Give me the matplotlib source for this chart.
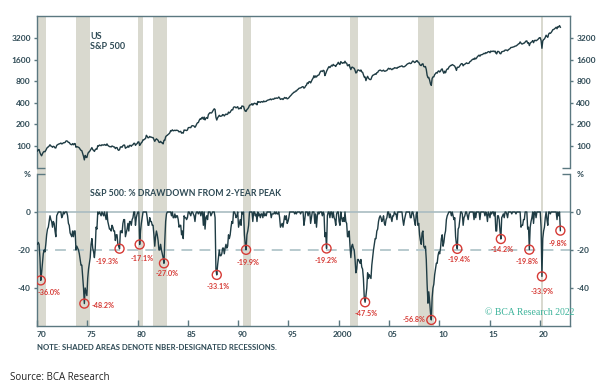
import matplotlib
matplotlib.use("Agg")
import matplotlib.pyplot as plt
import numpy as np

START_YEAR = 1970

# S&P 500, monthly closes (Jan 1970 .. Jan 2022)
spx_close = [
    85, 89, 89, 81, 76, 73, 78, 82, 84, 83, 87, 92,
    96, 97, 100, 104, 100, 99, 96, 99, 98, 94, 94, 102,
    104, 106, 107, 108, 110, 107, 108, 111, 111, 112, 117, 118,
    116, 112, 112, 107, 105, 104, 108, 104, 108, 108, 96, 98,
    97, 96, 94, 90, 87, 86, 79, 72, 64, 74, 70, 69,
    77, 82, 83, 87, 91, 95, 89, 87, 84, 89, 91, 90,
    101, 100, 103, 102, 101, 104, 103, 103, 105, 103, 102, 107,
    102, 100, 98, 98, 97, 100, 99, 97, 97, 92, 95, 95,
    89, 87, 89, 97, 97, 96, 101, 103, 103, 93, 95, 96,
    100, 96, 102, 102, 99, 103, 104, 109, 109, 102, 106, 108,
    114, 114, 102, 106, 111, 114, 122, 122, 125, 127, 141, 136,
    130, 131, 136, 133, 133, 131, 131, 123, 116, 122, 126, 123,
    120, 113, 112, 116, 112, 110, 107, 120, 120, 134, 139, 141,
    145, 148, 153, 164, 162, 168, 163, 164, 166, 164, 166, 165,
    163, 157, 159, 160, 151, 153, 151, 167, 166, 166, 164, 167,
    180, 181, 181, 180, 190, 192, 191, 189, 182, 190, 202, 211,
    212, 227, 238, 235, 247, 251, 236, 253, 231, 244, 249, 242,
    274, 284, 292, 288, 290, 304, 318, 330, 322, 252, 230, 247,
    257, 268, 259, 261, 262, 274, 272, 262, 272, 279, 274, 278,
    297, 289, 295, 310, 321, 318, 346, 351, 349, 340, 346, 353,
    329, 332, 340, 331, 361, 358, 356, 323, 306, 304, 322, 330,
    344, 367, 375, 375, 390, 371, 388, 395, 388, 392, 375, 417,
    409, 413, 404, 415, 415, 408, 424, 414, 418, 419, 431, 436,
    439, 443, 452, 440, 450, 451, 448, 464, 459, 468, 462, 466,
    482, 467, 446, 451, 457, 444, 458, 475, 463, 472, 454, 459,
    470, 487, 501, 515, 533, 545, 562, 562, 584, 582, 605, 616,
    636, 640, 646, 654, 669, 671, 640, 652, 687, 705, 757, 741,
    786, 791, 757, 801, 848, 885, 954, 899, 947, 915, 955, 970,
    980, 1049, 1102, 1112, 1091, 1134, 1121, 957, 1017, 1099, 1164, 1229,
    1280, 1238, 1286, 1335, 1302, 1373, 1329, 1320, 1283, 1363, 1389, 1469,
    1394, 1366, 1499, 1452, 1421, 1455, 1431, 1518, 1437, 1429, 1315, 1320,
    1366, 1240, 1160, 1249, 1256, 1224, 1211, 1134, 1041, 1060, 1139, 1148,
    1130, 1107, 1147, 1076, 1067, 990, 912, 916, 815, 886, 936, 880,
    856, 841, 848, 917, 964, 975, 990, 1008, 996, 1051, 1058, 1112,
    1131, 1145, 1126, 1107, 1121, 1141, 1102, 1104, 1115, 1130, 1174, 1212,
    1181, 1204, 1181, 1157, 1192, 1191, 1234, 1220, 1229, 1207, 1249, 1248,
    1280, 1281, 1295, 1311, 1270, 1270, 1277, 1304, 1336, 1378, 1401, 1418,
    1438, 1407, 1421, 1482, 1531, 1503, 1455, 1474, 1527, 1549, 1481, 1468,
    1379, 1331, 1323, 1386, 1400, 1280, 1267, 1283, 1166, 969, 896, 903,
    826, 735, 700, 873, 919, 919, 987, 1021, 1057, 1036, 1096, 1115,
    1074, 1104, 1169, 1187, 1089, 1031, 1102, 1049, 1141, 1183, 1181, 1258,
    1286, 1327, 1326, 1364, 1345, 1321, 1292, 1219, 1131, 1253, 1247, 1258,
    1312, 1366, 1408, 1398, 1310, 1362, 1379, 1407, 1441, 1412, 1416, 1426,
    1498, 1515, 1569, 1598, 1631, 1606, 1686, 1633, 1682, 1757, 1806, 1848,
    1783, 1859, 1872, 1884, 1924, 1960, 1931, 2003, 1972, 2018, 2068, 2059,
    1995, 2105, 2068, 2086, 2107, 2063, 2104, 1972, 1920, 2079, 2080, 2044,
    1940, 1932, 2060, 2065, 2097, 2099, 2174, 2171, 2168, 2126, 2199, 2239,
    2279, 2364, 2363, 2384, 2412, 2423, 2470, 2472, 2519, 2575, 2648, 2674,
    2824, 2714, 2641, 2648, 2705, 2718, 2816, 2902, 2914, 2712, 2760, 2507,
    2704, 2784, 2834, 2946, 2752, 2942, 2980, 2926, 2977, 3038, 3141, 3231,
    3226, 2954, 2300, 2912, 3044, 3100, 3271, 3500, 3363, 3270, 3622, 3756,
    3714, 3811, 3973, 4181, 4204, 4298, 4395, 4523, 4308, 4605, 4567, 4766,
    4516,
]

# % drawdown from 2-year peak, monthly (Jan 1970 .. Jan 2022)
drawdown_pct = [
    -17, -16, -17, -24, -36.0, -32, -27, -22, -20, -21, -17, -12,
    -9, -8, -5, -2, -4, -5, -8, -5, -6, -10, -13, -2,
    -1, 0, 0, 0, 0, -3, -2, 0, -1, 0, 0, 0,
    -2, -6, -7, -11, -12, -13, -10, -13, -10, -10, -20, -18,
    -19, -20, -22, -25, -28, -28, -34, -40, -48.2, -40, -42, -44,
    -35, -30, -27, -24, -17, -14, -19, -21, -24, -19, -8, -9,
    0, -1, 0, -1, -2, 0, -1, -2, 0, -2, -4, 0,
    -5, -7, -9, -9, -10, -7, -8, -10, -10, -15, -12, -12,
    -17, -18, -19.3, -10, -10, -11, -6, -4, -4, -13, -11, -9,
    -6, -10, -5, -5, -7, -4, -3, 0, 0, -7, -3, -1,
    0, 0, -17.1, -10, -6, -3, 0, 0, 0, 0, 0, -3,
    -7, -7, -3, -5, -5, -7, -7, -12, -18, -13, -10, -12,
    -15, -20, -20, -17, -20, -22, -24, -27.0, -15, -5, -1, 0,
    0, 0, 0, 0, -2, 0, -3, -3, -1, -3, -2, -2,
    -4, -8, -7, -7, -12, -10, -14, -2, -3, -3, -4, -3,
    0, 0, -1, -2, 0, 0, -1, -2, -5, -1, 0, 0,
    -1, 0, 0, -2, 0, 0, -7, 0, -9, -3, -2, -4,
    0, 0, 0, -2, -1, 0, 0, 0, -3, -30, -33.1, -28,
    -24, -20, -23, -23, -22, -19, -19, -22, -19, -17, -19, -18,
    -12, -14, -12, -8, -5, -6, 0, 0, -1, -3, -2, 0,
    -8, -6, -4, -7, 0, -1, 0, -12, -17, -19.9, -12, -10,
    -7, 0, 0, 0, 0, -5, 0, 0, -2, -1, -5, 0,
    -2, -1, -3, -1, -1, -3, 0, -2, -1, -2, 0, 0,
    0, 0, 0, -3, -1, -1, -1, 0, -1, 0, -1, -1,
    0, -3, -8, -7, -6, -8, -5, -2, -4, -2, -6, -5,
    -3, 0, 0, 0, 0, 0, 0, -1, 0, -1, 0, 0,
    0, 0, -1, 0, 0, 0, -7, -4, 0, 0, 0, -2,
    0, 0, -6, -3, 0, 0, 0, -6, -1, -8, -2, 0,
    -1, 0, 0, 0, -2, 0, -1, -13, -11, -19.2, -2, 0,
    0, -3, 0, 0, -3, 0, -3, -4, -7, -1, 0, 0,
    -5, -7, 0, -3, -5, -3, -5, 0, -5, -6, -13, -13,
    -10, -18, -24, -18, -17, -19, -20, -25, -32, -30, -25, -25,
    -26, -27, -25, -29, -30, -35, -45, -47.5, -44, -40, -32, -35,
    -33, -34, -35, -28, -24, -20, -17, -14, -14, -10, -9, -5,
    -3, -2, -3, -5, -4, -2, -6, -7, -4, -3, 0, 0,
    -3, -1, -3, -5, -2, -2, 0, -1, -1, -4, 0, 0,
    0, 0, 0, 0, -4, -7, -4, -2, 0, 0, 0, 0,
    0, -3, -3, 0, 0, -2, -5, -7, -1, 0, -7, -6,
    -12, -15, -17, -11, -10, -18, -19, -18, -25, -38, -48, -42,
    -47, -53, -56.8, -45, -40, -38, -33, -30, -27, -27, -23, -21,
    -22, -19, -14, -12, -18, -16, -12, -10, -4, -2, -1, 0,
    0, 0, -2, 0, -2, -4, -3, -13, -17, -19.4, -9, -8,
    -4, 0, 0, -1, -7, -3, -2, 0, 0, -2, -4, -1,
    0, 0, 0, 0, 0, -4, 0, -3, 0, 0, 0, 0,
    -4, 0, 0, 0, 0, 0, -2, 0, -1, -5, 0, -1,
    -3, 0, -1, 0, 0, -2, 0, -10, -10, -2, -2, -4,
    -10, -14.2, -3, -2, -1, -3, 0, 0, -1, -3, 0, 0,
    0, 0, -1, 0, 0, 0, 0, -1, 0, 0, 0, 0,
    0, -8, -7, -7, -4, -4, 0, 0, 0, -9, -8, -19.8,
    -8, -5, -3, 0, -6, 0, 0, -3, 0, 0, 0, 0,
    0, -8, -33.9, -14, -10, -8, -3, 0, -4, -7, 0, 0,
    -1, 0, 0, 0, 0, 0, 0, 0, -4, 0, -2, 0,
    -9.8,
]

# marked troughs (year, month) and their drawdown values
trough_months = [(1970, 5), (1974, 9), (1978, 3), (1980, 3), (1982, 8), (1987, 11),
                 (1990, 10), (1998, 10), (2002, 8), (2009, 3), (2011, 10), (2016, 2),
                 (2018, 12), (2020, 3), (2022, 1)]
trough_values = [-36.0, -48.2, -19.3, -17.1, -27.0, -33.1, -19.9, -19.2, -47.5, -56.8,
                 -19.4, -14.2, -19.8, -33.9, -9.8]

# NBER recessions (start month, end month)
recessions = [((1969, 12), (1970, 11)), ((1973, 11), (1975, 3)), ((1980, 1), (1980, 7)),
              ((1981, 7), (1982, 11)), ((1990, 7), (1991, 3)), ((2001, 3), (2001, 11)),
              ((2007, 12), (2009, 6)), ((2020, 2), (2020, 4))]

price_ticks = [100, 200, 400, 800, 1600, 3200]
dd_ticks = [0, -20, -40]
year_ticks = list(range(1970, 2021, 5))
year_labels = ["70", "75", "80", "85", "90", "95", "2000", "05", "10", "15", "20"]


def month_pos(y, m):
    return y + (m - 0.5) / 12


LINE = "#1f3c44"
SPINE = "#5b7880"
TXT = "#2e4a55"
RED = "#d63a35"
SHADE = "#d9d9cf"

plt.rcParams["font.family"] = ["Lato", "DejaVu Sans"]
plt.rcParams["axes.unicode_minus"] = False

n = len(spx_close)
t = START_YEAR + (np.arange(n) + 0.5) / 12

fig = plt.figure(figsize=(6.0, 3.85), dpi=100)
L, W = 37 / 600, 533 / 600
ax1 = fig.add_axes([L, 1 - 171 / 385, W, 155 / 385])
ax2 = fig.add_axes([L, 1 - 326 / 385, W, 155 / 385])

top_lo = 100 * 2 ** (-(171 - 146) / 21.6)
top_hi = 3200 * 2 ** (22 / 21.6)
cap_val = 100 * 2 ** (-(168 - 146) / 21.6)

for ax in (ax1, ax2):
    for (s, e) in recessions:
        ax.axvspan(s[0] + (s[1] - 1) / 12, e[0] + e[1] / 12, color=SHADE, lw=0, zorder=0)
    ax.set_xlim(1970, 2023)
    for side in ("left", "right", "top", "bottom"):
        ax.spines[side].set_color(SPINE)
        ax.spines[side].set_linewidth(1.0)

# top panel: price level
ax1.plot(t, spx_close, color=LINE, lw=1.0, zorder=3)
ax1.set_yscale("log", base=2)
ax1.set_ylim(top_lo, top_hi)
ax1.set_yticks(price_ticks, [str(v) for v in price_ticks])
ax1.set_yticks([cap_val], [""], minor=True)
ax1.spines["bottom"].set_visible(False)
ax1.spines["left"].set_bounds(cap_val, top_hi)
ax1.spines["right"].set_bounds(cap_val, top_hi)
ax1.set_xticks([])
ax1.tick_params(axis="y", which="major", left=True, right=True, labelleft=True, labelright=True,
                direction="out", length=2.5, width=1, color=SPINE, pad=2,
                labelsize=6, labelcolor=TXT)
ax1.tick_params(axis="y", which="minor", left=True, right=True, direction="in",
                length=6, width=1, color=SPINE)
for lab in ax1.get_yticklabels():
    lab.set_fontweight("bold")
ax1.text(0.0994, 0.868, "US", transform=ax1.transAxes, fontsize=6.5, fontweight="bold",
         color=TXT, va="center")
ax1.text(0.0994, 0.803, "S&P 500", transform=ax1.transAxes, fontsize=6.5, fontweight="bold",
         color=TXT, va="center")

# bottom panel: drawdown
ax2.axhline(0, color="#a9bcc1", lw=1.2, zorder=1)
ax2.axhline(-20, color="#b2c6ca", lw=1.3, dashes=(6, 4), zorder=1)
ax2.plot(t, drawdown_pct, color=LINE, lw=1.0, zorder=3)
ax2.set_ylim(-60, (212 - 171) / 19 * 10)
ax2.set_yticks(dd_ticks, [str(v) for v in dd_ticks])
ax2.set_yticks([20], ["%"], minor=True)
ax2.spines["top"].set_visible(False)
ax2.spines["left"].set_bounds(-60, 20)
ax2.spines["right"].set_bounds(-60, 20)
ax2.tick_params(axis="y", which="major", left=True, right=True, labelleft=True, labelright=True,
                direction="out", length=2.5, width=1, color=SPINE, pad=2,
                labelsize=6, labelcolor=TXT)
ax2.tick_params(axis="y", which="minor", left=True, right=True, labelleft=True, labelright=True,
                direction="in", length=6, width=1, color=SPINE, pad=4.5,
                labelsize=6, labelcolor=TXT)
ax2.set_xticks(year_ticks, [""] * len(year_ticks))
ax2.set_xticks([y + 0.4 for y in year_ticks], year_labels, minor=True)
ax2.tick_params(axis="x", which="major", direction="in", length=4.5, width=1, color=SPINE)
ax2.tick_params(axis="x", which="minor", length=0, pad=3.5, labelsize=6, labelcolor=TXT)
for lab in ax2.get_yticklabels() + ax2.get_yticklabels(minor=True) + ax2.get_xticklabels(minor=True):
    lab.set_fontweight("bold")

tx = [month_pos(y, m) for (y, m) in trough_months]
ax2.scatter(tx, trough_values, s=42, facecolors="none", edgecolors=RED, linewidths=1.0, zorder=4)

# label offsets in points (dx, dy, ha)
offsets = [(6, -9, "center"), (5, -1.5, "left"), (-9, -9, "center"), (1.5, -10, "center"),
           (2, -7, "center"), (1, -8, "center"), (1.5, -9, "center"), (0, -9, "center"),
           (1, -8, "center"), (-4, 0, "right"), (1.5, -8, "center"), (1, -7.5, "center"),
           (-1.5, -8.5, "center"), (0, -11, "center"), (-2, -9.5, "center")]
for x, v, (dx, dy, ha) in zip(tx, trough_values, offsets):
    ax2.annotate(f"{v:.1f}%", (x, v), xytext=(dx, dy), textcoords="offset points",
                 ha=ha, va="center", fontsize=5.2, fontweight="bold", color=RED, zorder=5)

ax2.text(0.0994, 0.852, "S&P 500: % DRAWDOWN FROM 2-YEAR PEAK", transform=ax2.transAxes,
         fontsize=6.3, fontweight="bold", color=TXT, va="center")
ax2.text(0.8405, 0.09, "© BCA Research 2022", transform=ax2.transAxes, fontsize=7,
         family=["Liberation Serif", "DejaVu Serif"], color="#3cb39a", va="center")

fig.text(37 / 600, 1 - 347 / 385, "NOTE: SHADED AREAS DENOTE NBER-DESIGNATED RECESSIONS.",
         fontsize=5.6, fontweight="bold", color=TXT, va="center")
fig.text(10 / 600, 1 - 377 / 385, "Source: BCA Research", fontsize=7, color="#222222",
         va="center", family=["Open Sans", "DejaVu Sans"])

fig.savefig("out.png", dpi=100, facecolor="white")
